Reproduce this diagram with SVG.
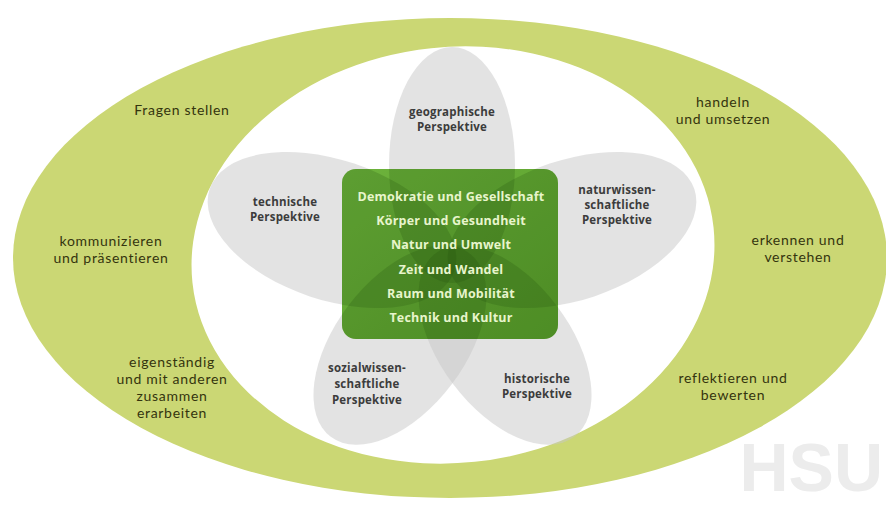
<svg xmlns="http://www.w3.org/2000/svg" width="886" height="514" viewBox="0 0 886 514">
<defs>
<style>
.outer{font-family:Lato,"Open Sans","Liberation Sans",sans-serif;font-size:14px;letter-spacing:0.7px;fill:#34340e;text-anchor:middle}
.pet{font-family:"Open Sans","Noto Sans","Liberation Sans",sans-serif;font-size:11.5px;font-weight:700;letter-spacing:0.2px;fill:#3c3c3c;text-anchor:middle}
.core{font-family:"Open Sans","Noto Sans","Liberation Sans",sans-serif;font-size:12.5px;font-weight:700;letter-spacing:0.2px;fill:#e8f5cc;text-anchor:middle}
.petal{fill:#c8c8c8;fill-opacity:0.5}
.shade{fill:#1e4a08;fill-opacity:0.2}
</style>
<linearGradient id="g" x1="0" y1="0" x2="1" y2="1">
<stop offset="0" stop-color="#6db33c"/>
<stop offset="1" stop-color="#5a9e2c"/>
</linearGradient>
<clipPath id="rc"><rect x="342" y="169" width="216" height="170" rx="14"/></clipPath>
<ellipse id="p1" cx="452" cy="165" rx="63" ry="118"/>
<ellipse id="p2" cx="332" cy="230" rx="129" ry="70" transform="rotate(18.5 332 230)"/>
<ellipse id="p3" cx="572" cy="230" rx="129" ry="70" transform="rotate(-18.5 572 230)"/>
<ellipse id="p4" cx="400" cy="345" rx="115" ry="65" transform="rotate(127 400 345)"/>
<ellipse id="p5" cx="505" cy="345" rx="115" ry="65" transform="rotate(53 505 345)"/>
</defs>
<rect width="886" height="514" fill="#ffffff"/>
<g id="ring">
<ellipse cx="450" cy="258" rx="437" ry="240" fill="#cbd774"/>
<ellipse cx="453" cy="255" rx="262" ry="208" transform="rotate(-6 453 255)" fill="#ffffff"/>
</g>
<text x="883" y="491" font-family="Liberation Sans,Arial,sans-serif" font-weight="700" font-size="68" fill="#ececec" text-anchor="end">HSU</text>
<g id="petals">
<use href="#p1" class="petal"/>
<use href="#p2" class="petal"/>
<use href="#p3" class="petal"/>
<use href="#p4" class="petal"/>
<use href="#p5" class="petal"/>
</g>
<g id="core">
<rect x="342" y="169" width="216" height="170" rx="14" fill="url(#g)"/>
<g clip-path="url(#rc)">
<use href="#p1" class="shade"/>
<use href="#p2" class="shade"/>
<use href="#p3" class="shade"/>
<use href="#p4" class="shade"/>
<use href="#p5" class="shade"/>
</g>
<text class="core" x="451" y="201">Demokratie und Gesellschaft</text>
<text class="core" x="451" y="225">Körper und Gesundheit</text>
<text class="core" x="451" y="249">Natur und Umwelt</text>
<text class="core" x="451" y="274">Zeit und Wandel</text>
<text class="core" x="451" y="298">Raum und Mobilität</text>
<text class="core" x="451" y="322">Technik und Kultur</text>
</g>
<g id="perspectives">
<text class="pet" x="452" y="116">geographische</text>
<text class="pet" x="452" y="131">Perspektive</text>
<text class="pet" x="285" y="206">technische</text>
<text class="pet" x="285" y="221">Perspektive</text>
<text class="pet" x="617" y="194">naturwissen-</text>
<text class="pet" x="617" y="209">schaftliche</text>
<text class="pet" x="617" y="224">Perspektive</text>
<text class="pet" x="367" y="372">sozialwissen-</text>
<text class="pet" x="367" y="388">schaftliche</text>
<text class="pet" x="367" y="404">Perspektive</text>
<text class="pet" x="537" y="383">historische</text>
<text class="pet" x="537" y="398">Perspektive</text>
</g>
<g id="competences">
<text class="outer" x="182" y="115">Fragen stellen</text>
<text class="outer" x="111" y="246">kommunizieren</text>
<text class="outer" x="111" y="263">und präsentieren</text>
<text class="outer" x="172" y="367">eigenständig</text>
<text class="outer" x="172" y="384">und mit anderen</text>
<text class="outer" x="172" y="401">zusammen</text>
<text class="outer" x="172" y="418">erarbeiten</text>
<text class="outer" x="723" y="107">handeln</text>
<text class="outer" x="723" y="124">und umsetzen</text>
<text class="outer" x="798" y="245">erkennen und</text>
<text class="outer" x="798" y="262">verstehen</text>
<text class="outer" x="733" y="383">reflektieren und</text>
<text class="outer" x="733" y="400">bewerten</text>
</g>
</svg>
